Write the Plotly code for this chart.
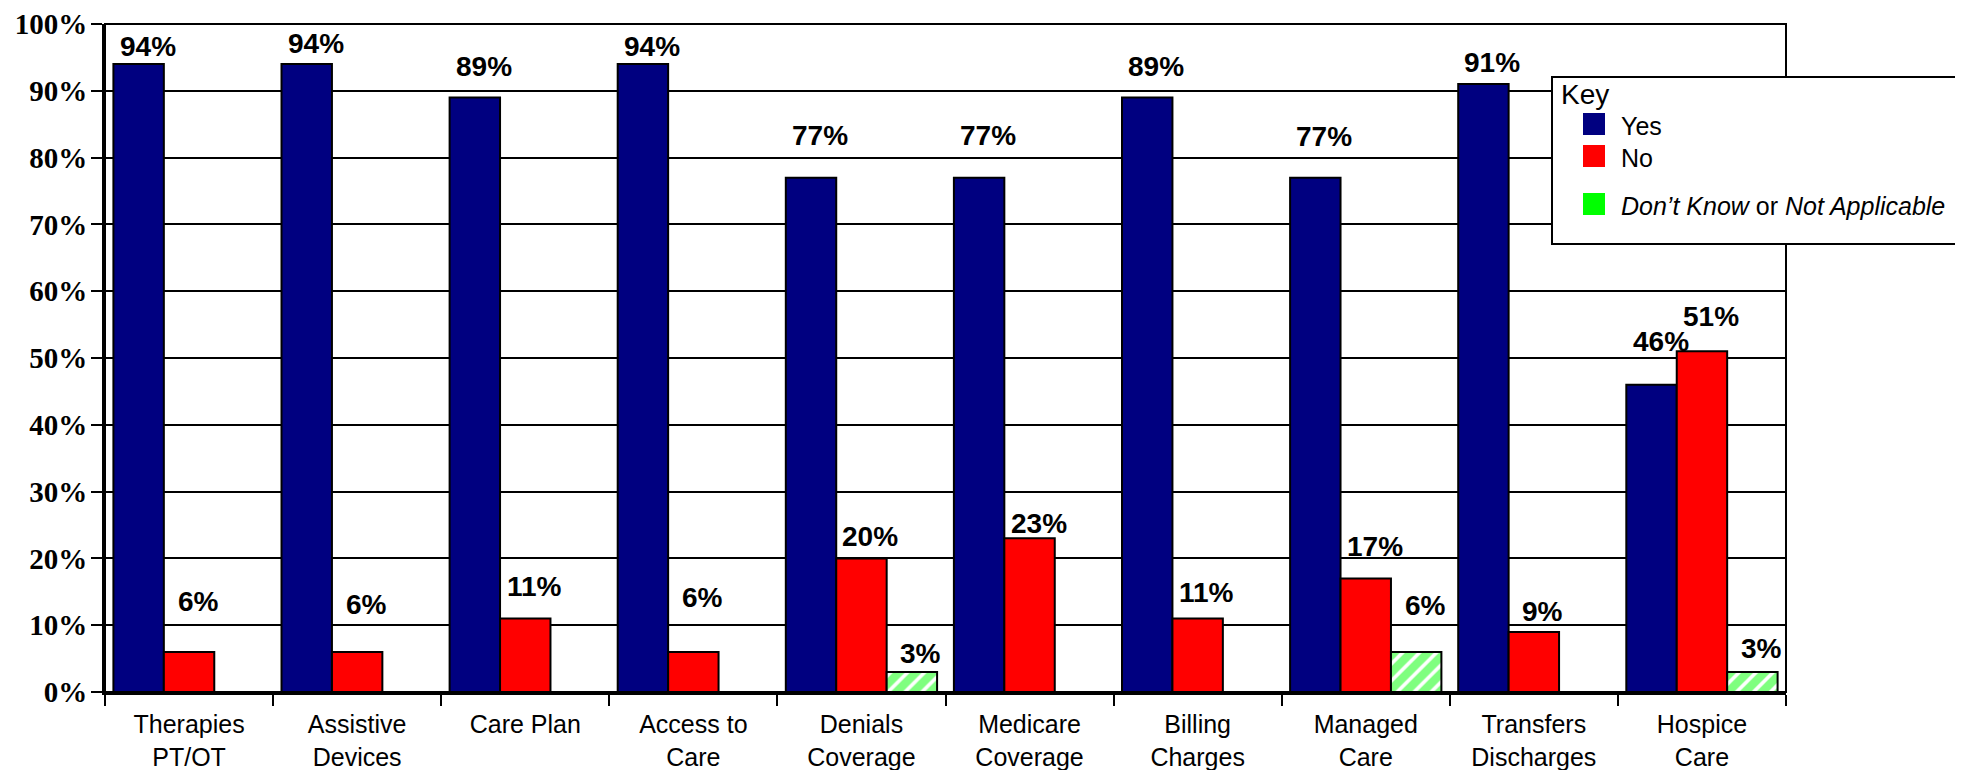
import plotly.graph_objects as go

# ---------------- data ----------------
categories = ["Therapies<br>PT/OT", "Assistive<br>Devices", "Care Plan", "Access to<br>Care",
              "Denials<br>Coverage", "Medicare<br>Coverage", "Billing<br>Charges",
              "Managed<br>Care", "Transfers<br>Discharges", "Hospice<br>Care"]
yes_vals = [94, 94, 89, 94, 77, 77, 89, 77, 91, 46]
no_vals = [6, 6, 11, 6, 20, 23, 11, 17, 9, 51]
dk_vals = [None, None, None, None, 3, None, None, 6, None, 3]
y_tick_vals = [0, 10, 20, 30, 40, 50, 60, 70, 80, 90, 100]
y_tick_text = [f"{v}%" for v in y_tick_vals]
series_names = ["Yes", "No", "Don’t Know or Not Applicable"]

# ---------------- styling / layout ----------------
OFF = 8                      # default page body margin
W, H = 1963 - 2 * OFF, 778 - 2 * OFF
# target plot area on the page: x 105..1786, y 24..692
ML = 105 - OFF
MT = 24 - OFF
MR = W - (1786 - OFF)
MB = H - (692 - OFF)
PW, PH = W - ML - MR, H - MT - MB
BARGAP = 0.1
colors = ["#000080", "#FF0000", "#00FF00"]
# vertical gap (px) between bar top and its value label, as placed in the original
label_gap = [
    [8, 11, 21, 8, 32, 32, 21, 31, 12, 33],
    [40, 37, 22, 44, 12, 5, 16, 22, 10, 25],
    [0, 0, 0, 0, 8, 0, 0, 36, 0, 13],
]


def px_x(px):
    return (px - OFF - ML) / PW


def px_y(py):
    return (MT + PH - (py - OFF)) / PH


fig = go.Figure()
all_vals = [yes_vals, no_vals, dk_vals]
for s, vals in enumerate(all_vals):
    marker = dict(color=colors[s], line=dict(color="black", width=2))
    if s == 2:
        marker = dict(color="white", line=dict(color="black", width=2),
                      pattern=dict(shape="/", fgcolor=colors[2], bgcolor="white",
                                   size=12, solidity=0.7))
    fig.add_trace(go.Bar(x=categories, y=vals, name=series_names[s],
                         marker=marker, showlegend=False))

# value labels
barw = PW / len(categories) * (1 - BARGAP) / 3
annotations = []
for s, vals in enumerate(all_vals):
    for i, v in enumerate(vals):
        if v is None:
            continue
        annotations.append(dict(
            x=i, y=v, xref="x", yref="y", text=f"<b>{v}%</b>", showarrow=False,
            xshift=(s - 1) * barw + 9, yshift=label_gap[s][i] + 10,
            yanchor="middle", xanchor="center",
            font=dict(family="Liberation Sans, Arial, sans-serif", size=28, color="black")))

# legend box ("Key")
shapes = [
    dict(type="rect", xref="paper", yref="paper", x0=0, y0=0, x1=1, y1=1,
         line=dict(color="black", width=2), fillcolor="rgba(0,0,0,0)", layer="above"),
    dict(type="rect", xref="paper", yref="paper", x0=px_x(1552), x1=px_x(1956),
         y0=px_y(244), y1=px_y(77), line=dict(color="black", width=2),
         fillcolor="white", layer="above"),
]
sw_y = [124, 156, 204]
for s in range(3):
    shapes.append(dict(type="rect", xref="paper", yref="paper",
                       x0=px_x(1583), x1=px_x(1605), y0=px_y(sw_y[s] + 11), y1=px_y(sw_y[s] - 11),
                       line=dict(width=0), fillcolor=colors[s], layer="above"))
legend_texts = ["Yes", "No", "<i>Don’t Know</i> or <i>Not Applicable</i>"]
lfont = dict(family="Liberation Sans, Arial, sans-serif", size=25, color="black")
annotations.append(dict(x=px_x(1559), y=px_y(94), xref="paper", yref="paper", text="Key",
                        showarrow=False, xanchor="left", yanchor="middle",
                        font=dict(family="Liberation Sans, Arial, sans-serif", size=28, color="black")))
for s in range(3):
    annotations.append(dict(x=px_x(1619), y=px_y(sw_y[s] + 2), xref="paper", yref="paper",
                            text=legend_texts[s], showarrow=False, xanchor="left",
                            yanchor="middle", font=lfont))

fig.update_layout(
    width=W, height=H,
    margin=dict(l=ML, r=MR, t=MT, b=MB, pad=0, autoexpand=False),
    barmode="group", bargap=BARGAP, bargroupgap=0,
    plot_bgcolor="white", paper_bgcolor="white",
    showlegend=False,
    shapes=shapes, annotations=annotations,
)
fig.update_xaxes(
    type="category", tickson="boundaries", ticks="outside", ticklen=11, tickwidth=2,
    tickcolor="black", showline=True, linecolor="black", linewidth=3, showgrid=False,
    automargin=False, ticklabelstandoff=8, ticklabeloverflow="allow",
    tickfont=dict(family="Liberation Sans, Arial, sans-serif", size=25, color="black"),
)
fig.update_yaxes(
    range=[0, 100], tickvals=y_tick_vals, ticktext=y_tick_text, ticks="outside",
    ticklen=11, tickwidth=2, tickcolor="black", showline=True, linecolor="black",
    linewidth=3, showgrid=True, gridcolor="black", gridwidth=2, zeroline=False,
    automargin=False, ticklabeloverflow="allow", ticklabelstandoff=-2,
    tickfont=dict(family="Liberation Serif, Times New Roman, serif", size=29,
                  color="black", weight="bold"),
)

fig.write_html("out.html")
